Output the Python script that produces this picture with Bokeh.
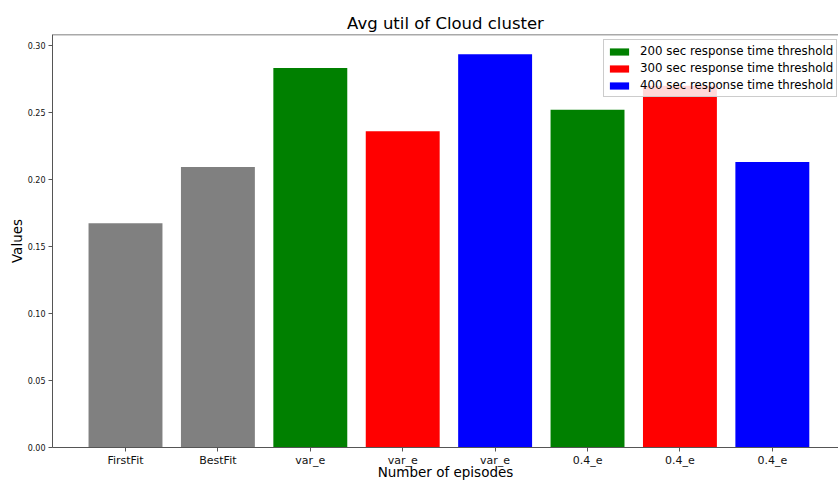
from bokeh.plotting import figure
from bokeh.models import FixedTicker, NumeralTickFormatter, Range1d, Legend, LegendItem, Span
from bokeh.embed import file_html
from bokeh.resources import INLINE

# Data
tick_labels = ["FirstFit", "BestFit", "var_e", "var_e", "var_e", "0.4_e", "0.4_e", "0.4_e"]
baseline_x = [0, 1]
baseline_vals = [0.1674, 0.2094]
t200_x = [2, 5]
t200_vals = [0.2832, 0.2521]
t300_x = [3, 6]
t300_vals = [0.2361, 0.2700]
t400_x = [4, 7]
t400_vals = [0.2936, 0.2131]
series_labels = ["200 sec response time threshold", "300 sec response time threshold", "400 sec response time threshold"]
x_title = "Number of episodes"
y_title = "Values"

FONT = "DejaVu Sans"
Y_TOP = 0.3083

p = figure(width=838, height=482, output_backend="svg", toolbar_location=None,
           x_range=Range1d(-0.79, 7.716), y_range=Range1d(0, Y_TOP),
           min_border_left=52, min_border_right=0, min_border_top=34, min_border_bottom=32)

p.title.text = "Avg util of Cloud cluster"
p.title.align = "center"
p.title.text_font = FONT
p.title.text_font_size = "16.5px"
p.title.text_font_style = "normal"
p.title.text_color = "#000000"
p.title.offset = 3
p.title.standoff = 4

w = 0.8
p.vbar(x=baseline_x, top=baseline_vals, width=w, color="gray", line_color=None)
r1 = p.vbar(x=t200_x, top=t200_vals, width=w, color="green", line_color=None)
r2 = p.vbar(x=t300_x, top=t300_vals, width=w, color="red", line_color=None)
r3 = p.vbar(x=t400_x, top=t400_vals, width=w, color="blue", line_color=None)

legend = Legend(items=[LegendItem(label=series_labels[0], renderers=[r1]),
                       LegendItem(label=series_labels[1], renderers=[r2]),
                       LegendItem(label=series_labels[2], renderers=[r3])],
                location=(551, 350))
legend.label_text_font = FONT
legend.label_text_font_size = "11.8px"
legend.label_text_color = "#000000"
legend.glyph_width = 24
legend.glyph_height = 9
legend.label_height = 16
legend.spacing = 1
legend.padding = 3
legend.margin = 0
legend.border_line_color = "#cccccc"
legend.border_line_alpha = 1
legend.background_fill_alpha = 0.85
legend.label_standoff = 9
p.add_layout(legend, "center")

p.xgrid.visible = False
p.ygrid.visible = False

p.xaxis.ticker = FixedTicker(ticks=list(range(len(tick_labels))))
p.xaxis.major_label_overrides = {i: lab for i, lab in enumerate(tick_labels)}
p.yaxis.ticker = FixedTicker(ticks=[0.0, 0.05, 0.10, 0.15, 0.20, 0.25, 0.30])
p.yaxis.formatter = NumeralTickFormatter(format="0.00")

for ax in (p.xaxis[0], p.yaxis[0]):
    ax.axis_line_color = "#555555"
    ax.major_tick_line_color = "#555555"
    ax.major_tick_out = 4
    ax.major_tick_in = 0
    ax.minor_tick_line_color = None
    ax.axis_label_text_font = FONT
    ax.axis_label_text_font_style = "normal"
    ax.axis_label_text_font_size = "13.5px"
    ax.axis_label_text_color = "#000000"
    ax.major_label_text_font = FONT
    ax.major_label_text_color = "#111111"

p.xaxis.major_label_text_font_size = "11px"
p.yaxis.major_label_text_font_size = "8px"
p.yaxis.axis_label = y_title
p.yaxis.axis_label_standoff = 0
p.yaxis.major_label_standoff = 3
p.xaxis.axis_label = x_title
p.xaxis.major_label_standoff = 2
p.xaxis.axis_label_standoff = -6

# top spine only (right spine lies beyond the visible area in the reference)
p.outline_line_color = None
p.add_layout(Span(location=Y_TOP, dimension="width", line_color="#555555", line_width=1.5))

open("out.html", "w").write(file_html(p, INLINE))
